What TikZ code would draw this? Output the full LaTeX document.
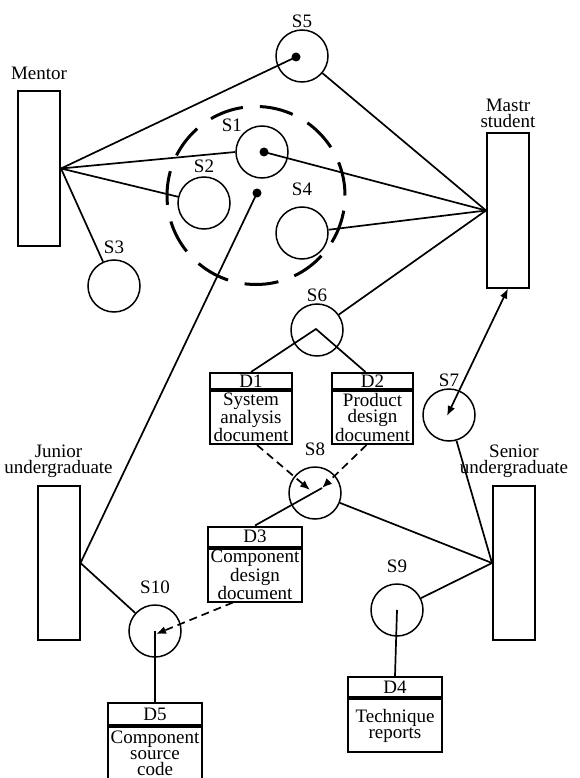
\documentclass[tikz,border=0pt]{standalone}
\usepackage{fontspec}
\setmainfont{Liberation Serif}
\usetikzlibrary{positioning,arrows.meta}
\begin{document}
\begin{tikzpicture}[x=1pt,y=-1pt,font=\fontsize{19}{16}\selectfont,
  every label/.style={inner sep=1pt},
  proc/.style={circle,draw,line width=1.5pt,minimum size=52pt,inner sep=0pt,label distance=6pt},
  actor/.style={rectangle,draw,line width=2pt,minimum width=42pt,minimum height=154pt,inner sep=0pt},
  storehead/.style={rectangle,draw,line width=2pt,minimum height=20pt,inner sep=0pt},
  storebody/.style={rectangle,draw,line width=2pt,minimum height=53pt,inner sep=0pt,align=center},
  link/.style={line width=1.7pt},
  flow/.style={line width=1.7pt,dash pattern=on 8pt off 5pt,-{Latex[length=10pt,width=8pt]}}]
\useasboundingbox (0,0) rectangle (579,778);

% actors
\node[actor,label={[label distance=10pt]above:Mentor}] (mentor) at (39,168.5) {};
\node[actor,label={[label distance=4pt,align=center]above:Mastr\\student}] (mastr) at (508,210.5) {};
\node[actor,label={[label distance=6pt,align=center]above:Junior\\undergraduate}] (junior) at (58.5,563) {};
\node[actor,label={[label distance=6pt,align=center]above:Senior\\undergraduate}] (senior) at (514,563) {};

% processes
\draw[line width=3pt,dash pattern=on 34pt off 17pt] (256,195.5) circle[radius=89pt];
\node[proc,label={[label distance=0pt]135:S1}] (s1) at (262,152) {};
\node[proc,label={[label distance=2pt]above:S2}] (s2) at (204,203) {};
\node[proc,label={[label distance=4pt]above:S3}] (s3) at (114,286) {};
\node[proc,label={[label distance=9pt]above:S4}] (s4) at (302,233) {};
\node[proc,label=above:S5] (s5) at (302,56) {};
\node[proc,label=above:S6] (s6) at (317,330) {};
\node[proc,label=above:S7] (s7) at (449,415) {};
\node[proc,label={[label distance=9pt]above:S8}] (s8) at (315,493) {};
\node[proc,label={[label distance=9pt]above:S9}] (s9) at (397,610) {};
\node[proc,label={[label distance=9pt]above:S10}] (s10) at (155,631) {};

% data stores
\node[storehead,minimum width=82pt,minimum height=16pt] (d1h) at (251,381) {D1};
\node[storebody,minimum width=82pt,below=0pt of d1h] (d1) {System\\analysis\\document};
\node[storehead,minimum width=81pt,minimum height=16pt] (d2h) at (372.5,381) {D2};
\node[storebody,minimum width=81pt,below=0pt of d2h] (d2) {Product\\design\\document};
\node[storehead,minimum width=94pt] (d3h) at (255,536.5) {D3};
\node[storebody,minimum width=94pt,below=0pt of d3h] (d3) {Component\\design\\document};
\node[storehead,minimum width=94pt] (d4h) at (395,687) {D4};
\node[storebody,minimum width=94pt,below=0pt of d4h] (d4) {Technique\\reports};
\node[storehead,minimum width=94pt,minimum height=22pt] (d5h) at (155,714) {D5};
\node[storebody,minimum width=94pt,minimum height=52pt,below=0pt of d5h] (d5) {Component\\source\\code};

% dots and inner points
\coordinate (s1dot) at (264,152);
\coordinate (s5dot) at (296,57);
\coordinate (cdot) at (257,193);
\coordinate (s6in) at (316,329);
\coordinate (s7in) at (447,416);
\coordinate (s8a) at (310,490);
\coordinate (s8b) at (322,488);
\coordinate (s10in) at (156,634);
\fill (s1dot) circle[radius=4.5pt];
\fill (s5dot) circle[radius=4.5pt];
\fill (cdot) circle[radius=4.5pt];

% connectors
\draw[link] (mentor.east) -- (s5dot);
\draw[link] (mentor.east) -- (s1.west);
\draw[link] (mentor.east) -- (s2);
\draw[link] (mentor.east) -- (s3);
\draw[link] (s5) -- (mastr.west);
\draw[link] (s1dot) -- (mastr.west);
\draw[link] (s4) -- (mastr.west);
\draw[link] (s6) -- (mastr.west);
\draw[link] (cdot) -- (junior.east);
\draw[link] (d1h.north) -- (s6in) -- ([xshift=-7pt]d2h.north);
\draw[link,{Latex[length=10pt,width=8pt]}-{Latex[length=10pt,width=8pt]}] (s7in) -- (mastr.south);
\draw[link] (s7) -- (senior.west);
\draw[flow] ([xshift=6pt]d1.south) -- (s8a);
\draw[flow] ([xshift=-6pt]d2.south) -- (s8b);
\draw[link] (s8b) -- (d3h.north);
\draw[link] (s8) -- (senior.west);
\draw[link] (s9) -- (senior.west);
\draw[link] (s9.center) -- (d4h.north);
\draw[link] (junior.east) -- (s10);
\draw[flow] ([xshift=-22pt]d3.south) -- (s10in);
\draw[link] (d5h.north) -- (s10.center);
\end{tikzpicture}
\end{document}
